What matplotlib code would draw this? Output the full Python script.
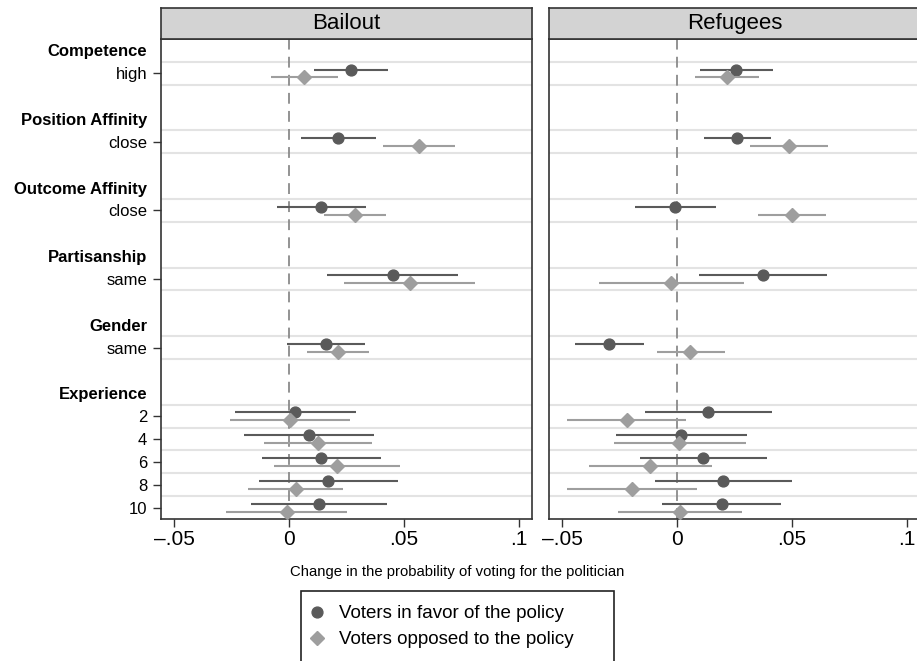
import numpy as np
import matplotlib
matplotlib.use('Agg')
import matplotlib.pyplot as plt
from matplotlib.patches import Rectangle
from matplotlib.lines import Line2D

plt.rcParams['font.family'] = ['Liberation Sans', 'DejaVu Sans']

# Attributes and their levels (top to bottom)
attributes = ['Competence', 'Position Affinity', 'Outcome Affinity',
              'Partisanship', 'Gender', 'Experience']
levels = [['high'], ['close'], ['close'], ['same'], ['same'],
          ['2', '4', '6', '8', '10']]

panels = ['Bailout', 'Refugees']

# Bailout: voters in favor
bail_fav = [0.0269, 0.0213, 0.0139, 0.0452, 0.0161, 0.0028, 0.0087, 0.0141, 0.0171, 0.0131]
bail_fav_lo = [0.0107, 0.0051, -0.0052, 0.0167, -0.0007, -0.0234, -0.0197, -0.0119, -0.0131, -0.0164]
bail_fav_hi = [0.0432, 0.0377, 0.0334, 0.0736, 0.0330, 0.0290, 0.0372, 0.0402, 0.0473, 0.0425]
# Bailout: voters opposed
bail_opp = [0.0065, 0.0568, 0.0289, 0.0526, 0.0215, 0.0003, 0.0128, 0.0210, 0.0030, -0.0010]
bail_opp_lo = [-0.0078, 0.0411, 0.0154, 0.0240, 0.0078, -0.0257, -0.0108, -0.0065, -0.0177, -0.0274]
bail_opp_hi = [0.0212, 0.0723, 0.0421, 0.0810, 0.0350, 0.0266, 0.0361, 0.0483, 0.0235, 0.0254]
# Refugees: voters in favor
ref_fav = [0.0259, 0.0263, -0.0007, 0.0373, -0.0294, 0.0134, 0.0016, 0.0115, 0.0201, 0.0195]
ref_fav_lo = [0.0102, 0.0118, -0.0182, 0.0098, -0.0445, -0.0141, -0.0267, -0.0163, -0.0097, -0.0067]
ref_fav_hi = [0.0418, 0.0410, 0.0169, 0.0652, -0.0144, 0.0412, 0.0303, 0.0391, 0.0499, 0.0452]
# Refugees: voters opposed
ref_opp = [0.0217, 0.0487, 0.0502, -0.0026, 0.0058, -0.0219, 0.0010, -0.0116, -0.0196, 0.0012]
ref_opp_lo = [0.0079, 0.0317, 0.0354, -0.0339, -0.0087, -0.0480, -0.0275, -0.0381, -0.0480, -0.0257]
ref_opp_hi = [0.0357, 0.0657, 0.0650, 0.0290, 0.0207, 0.0038, 0.0300, 0.0151, 0.0089, 0.0281]

xticks = [-0.05, 0, 0.05, 0.1]
xticklabels = ['\u2013.05', '0', '.05', '.1']

series_labels = ['Voters in favor of the policy', 'Voters opposed to the policy']
fav_color = '#5a5a5a'
opp_color = '#9e9e9e'

# lay out rows: header, its levels, then a blank row between groups
ypos_labels = []
item_pos = []
row = 0
for i, (att, lev) in enumerate(zip(attributes, levels)):
    ypos_labels.append((row, att, True))
    row += 1
    for l in lev:
        ypos_labels.append((row, l, False))
        item_pos.append(row)
        row += 1
    if i < len(attributes) - 1:
        row += 1
item_pos = np.array(item_pos, dtype=float)
ymax = row - 0.5

grid_y = sorted(set([p - 0.5 for p in item_pos] + [p + 0.5 for p in item_pos]))
grid_y = [g for g in grid_y if g < ymax]

W, H = 917, 661
fig = plt.figure(figsize=(W / 100, H / 100), dpi=100)

data = {
    'Bailout': (bail_fav, bail_fav_lo, bail_fav_hi, bail_opp, bail_opp_lo, bail_opp_hi),
    'Refugees': (ref_fav, ref_fav_lo, ref_fav_hi, ref_opp, ref_opp_lo, ref_opp_hi),
}

lefts = [161, 549]
pw = 371
top, bottom, strip_top = 39, 519, 8

for k, name in enumerate(panels):
    x0 = lefts[k]
    ax = fig.add_axes([x0 / W, 1 - bottom / H, pw / W, (bottom - top) / H])
    fav, fav_lo, fav_hi, opp, opp_lo, opp_hi = [np.array(a) for a in data[name]]

    for g in grid_y:
        ax.axhline(g, color='#e3e3e3', lw=1.5, zorder=0)
    ax.axvline(0, color='#8a8a8a', lw=1.3, ls=(0, (6, 4)), zorder=1)

    ax.errorbar(fav, item_pos - 0.16, xerr=[fav - fav_lo, fav_hi - fav],
                fmt='o', color=fav_color, ecolor=fav_color, elinewidth=1.5,
                ms=7.8, capsize=0, zorder=3)
    ax.errorbar(opp, item_pos + 0.18, xerr=[opp - opp_lo, opp_hi - opp],
                fmt='D', color=opp_color, ecolor=opp_color, elinewidth=1.5,
                ms=6.8, capsize=0, zorder=4)

    ax.set_xlim(-0.0557, 0.1058)
    ax.set_ylim(ymax, -0.5)
    ax.set_xticks(xticks)
    ax.set_xticklabels(xticklabels, fontsize=15)
    ax.tick_params(axis='x', length=6, width=1, pad=2, color='#333333')

    if k == 0:
        ax.set_yticks([p for p, _, _ in ypos_labels])
        ax.set_yticklabels([t for _, t, _ in ypos_labels], fontsize=12)
        ax.tick_params(axis='y', length=6, width=1, pad=4, color='#333333')
        for tick, (_, _, bold) in zip(ax.yaxis.get_major_ticks(), ypos_labels):
            if bold:
                tick.tick1line.set_visible(False)
                tick.label1.set_fontweight('bold')
    else:
        ax.set_yticks([])

    for s in ax.spines.values():
        s.set_color('#333333')
        s.set_linewidth(1.2)

    # panel title strip
    hs = fig.add_axes([x0 / W, 1 - top / H, pw / W, (top - strip_top) / H])
    hs.set_facecolor('#d3d3d3')
    hs.set_xticks([])
    hs.set_yticks([])
    for s in hs.spines.values():
        s.set_color('#333333')
        s.set_linewidth(1.2)
    hs.text(0.5, 0.5, name, ha='center', va='center', fontsize=16,
            transform=hs.transAxes)

fig.text(457 / W, 1 - 572 / H, 'Change in the probability of voting for the politician',
         ha='center', va='center', fontsize=10.7)

handles = [Line2D([], [], ls='none', marker='o', ms=7.8, color=fav_color),
           Line2D([], [], ls='none', marker='D', ms=6.8, color=opp_color)]
fig.add_artist(Rectangle((301 / W, -0.02), (614 - 301) / W, 0.02 + 1 - 590.7 / H,
                         transform=fig.transFigure, fill=False,
                         edgecolor='#222222', lw=1.2))
fig.legend(handles, series_labels, loc='upper left', bbox_to_anchor=(301 / W, 1 - 599 / H),
           frameon=False, fontsize=13.5, handlelength=1.0, handletextpad=0.7,
           borderpad=0.34, labelspacing=0.46, borderaxespad=0)

fig.savefig('out.png', dpi=100)
